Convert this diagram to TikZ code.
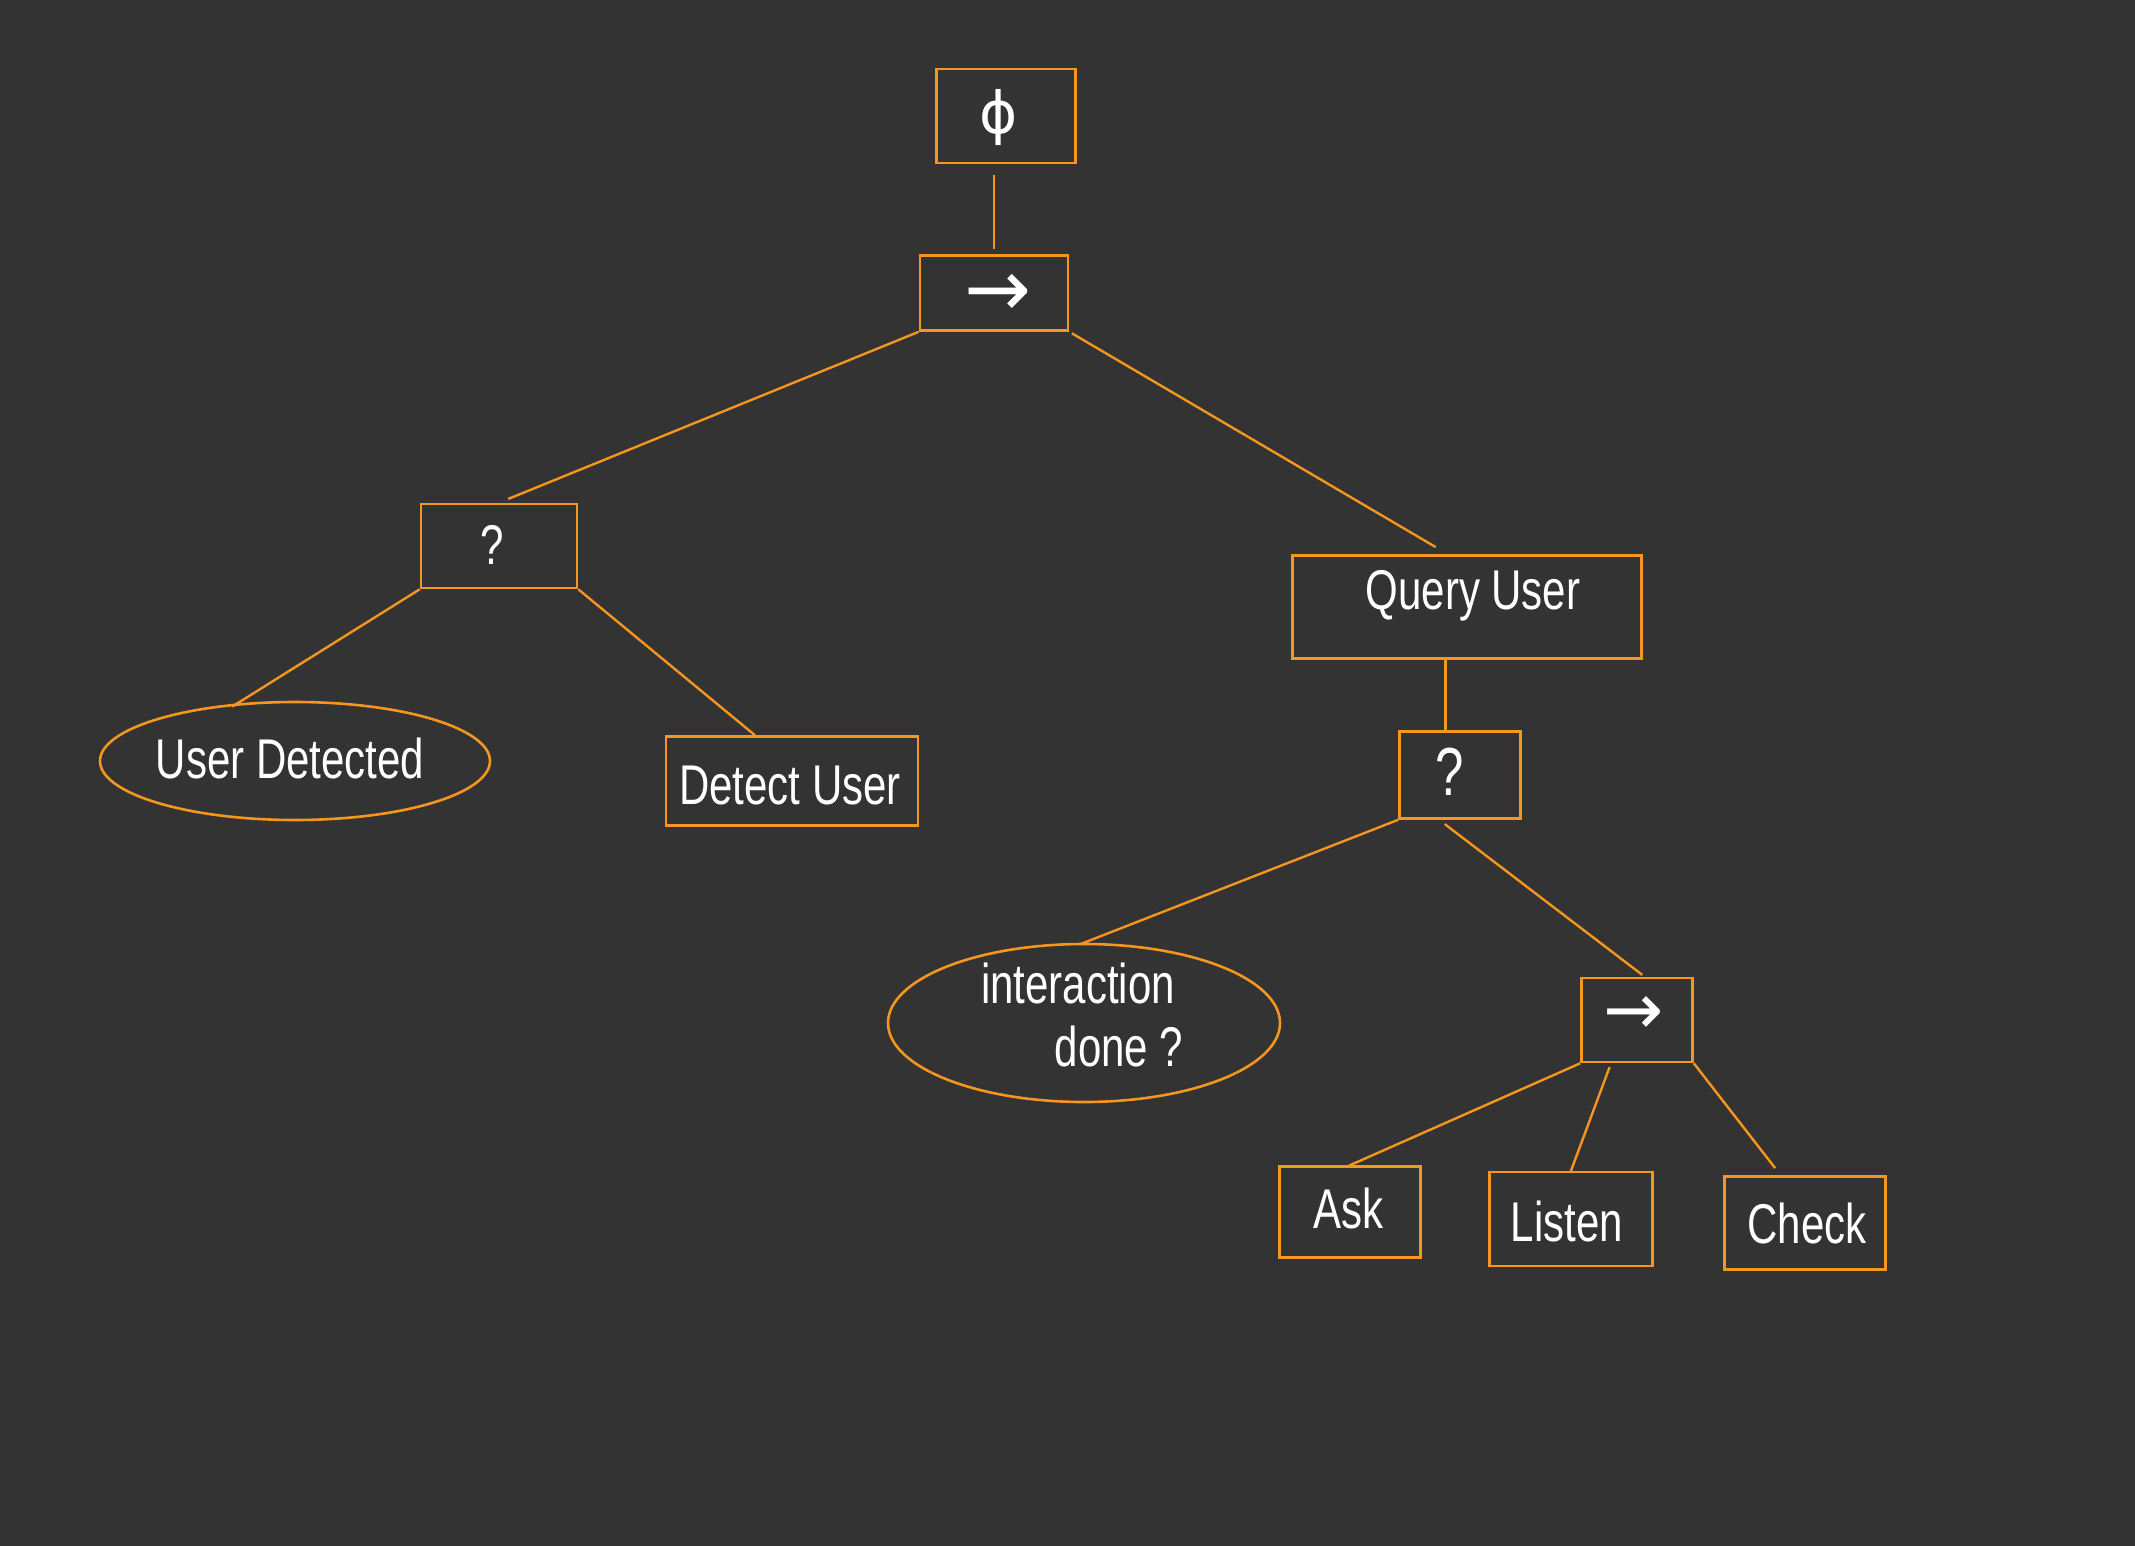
\documentclass[tikz,border=0pt]{standalone}
\usepackage{fontspec}
\setmainfont{Liberation Sans}[FakeStretch=0.75]
\newfontfamily\symfnt{DejaVu Sans}
\usetikzlibrary{shapes.geometric,calc}
\definecolor{bg}{HTML}{333333}
\definecolor{org}{HTML}{F5961E}
\tikzset{
  box/.style={draw=org, line width=2.6pt, rectangle, inner sep=0pt, text=white},
  oval/.style={draw=org, line width=2.6pt, ellipse, inner sep=0pt, text=white},
  edge/.style={draw=org, line width=2.4pt},
  lbl/.style={text=white, inner sep=0pt, font=\fontsize{56}{64}\selectfont},
  sym/.style={text=white, inner sep=0pt}
}
\begin{document}
\begin{tikzpicture}[x=1pt,y=-1pt]
\fill[bg] (0,0) rectangle (2135,1546);
\useasboundingbox (0,0) rectangle (2135,1546);

% nodes
\node[box, minimum width=139pt, minimum height=94pt] (phi) at (1006,116) {};
\node[sym, font=\symfnt\fontsize{58}{58}\selectfont] (phit) at (999,118) {ϕ};

\node[box, minimum width=148pt, minimum height=75pt] (seq) at (994,293) {};
\node[sym, font=\symfnt\fontsize{80}{80}\selectfont] (seqt) at (998,295) {→};

\node[box, minimum width=156pt, minimum height=84pt] (sel) at (499,546) {};
\node[sym, font=\fontsize{56}{56}\selectfont] (selt) at (492,545) {?};

\node[oval, minimum width=390pt, minimum height=118pt] (ud) at (295,761) {};
\node[lbl] (udt) at (290,758) {User Detected};

\node[box, minimum width=252pt, minimum height=89pt] (du) at (792,781) {};
\node[lbl] (dut) at (790,786) {Detect User};

\node[box, minimum width=349pt, minimum height=103pt] (qu) at (1467,607) {};
\node[lbl] (qut) at (1473,596) {Query User};

\node[box, minimum width=121pt, minimum height=87pt] (sel2) at (1460,775) {};
\node[sym, font=\fontsize{68}{68}\selectfont] (sel2t) at (1450,772) {?};

\node[oval, minimum width=392pt, minimum height=158pt] (idn) at (1084,1023) {};
\node[lbl] (idt1) at (1078,983) {interaction};
\node[lbl] (idt2) at (1119,1046) {done ?};

\node[box, minimum width=111pt, minimum height=84pt] (seq2) at (1637,1020) {};
\node[sym, font=\symfnt\fontsize{72}{72}\selectfont] (seq2t) at (1634,1016) {→};

\node[box, minimum width=141pt, minimum height=91pt] (ask) at (1350,1212) {};
\node[lbl] (askt) at (1348,1208) {Ask};

\node[box, minimum width=163pt, minimum height=94pt] (lis) at (1571,1219) {};
\node[lbl] (list) at (1567,1221) {Listen};

\node[box, minimum width=161pt, minimum height=93pt] (chk) at (1805,1223) {};
\node[lbl] (chkt) at (1807,1223) {Check};

% connectors
\draw[edge, shorten <=5pt, shorten >=11pt] (seq.north) -- (seq.north |- phi.south);
\draw[edge, shorten >=10pt] (seq.south west) -- (sel.north);
\draw[edge, shorten <=3pt, shorten >=14pt] (seq.south east) -- (qu.110);
\draw[edge, shorten >=-6pt] (sel.south west) -- (ud.135);
\draw[edge] (sel.south east) -- (du.129);
\draw[edge] (qu.south -| sel2.108) -- (sel2.108);
\draw[edge, shorten >=-4pt] (sel2.south west) -- (idn.north);
\draw[edge, shorten <=7pt, shorten >=3pt] (sel2.-115) -- (seq2.80);
\draw[edge, shorten >=-1pt] (seq2.south west) -- (ask.north);
\draw[edge, shorten <=4pt, shorten >=-2pt] (seq2.-121) -- (lis.north);
\draw[edge, shorten >=9pt] (seq2.south east) -- (chk.117);
\end{tikzpicture}
\end{document}
